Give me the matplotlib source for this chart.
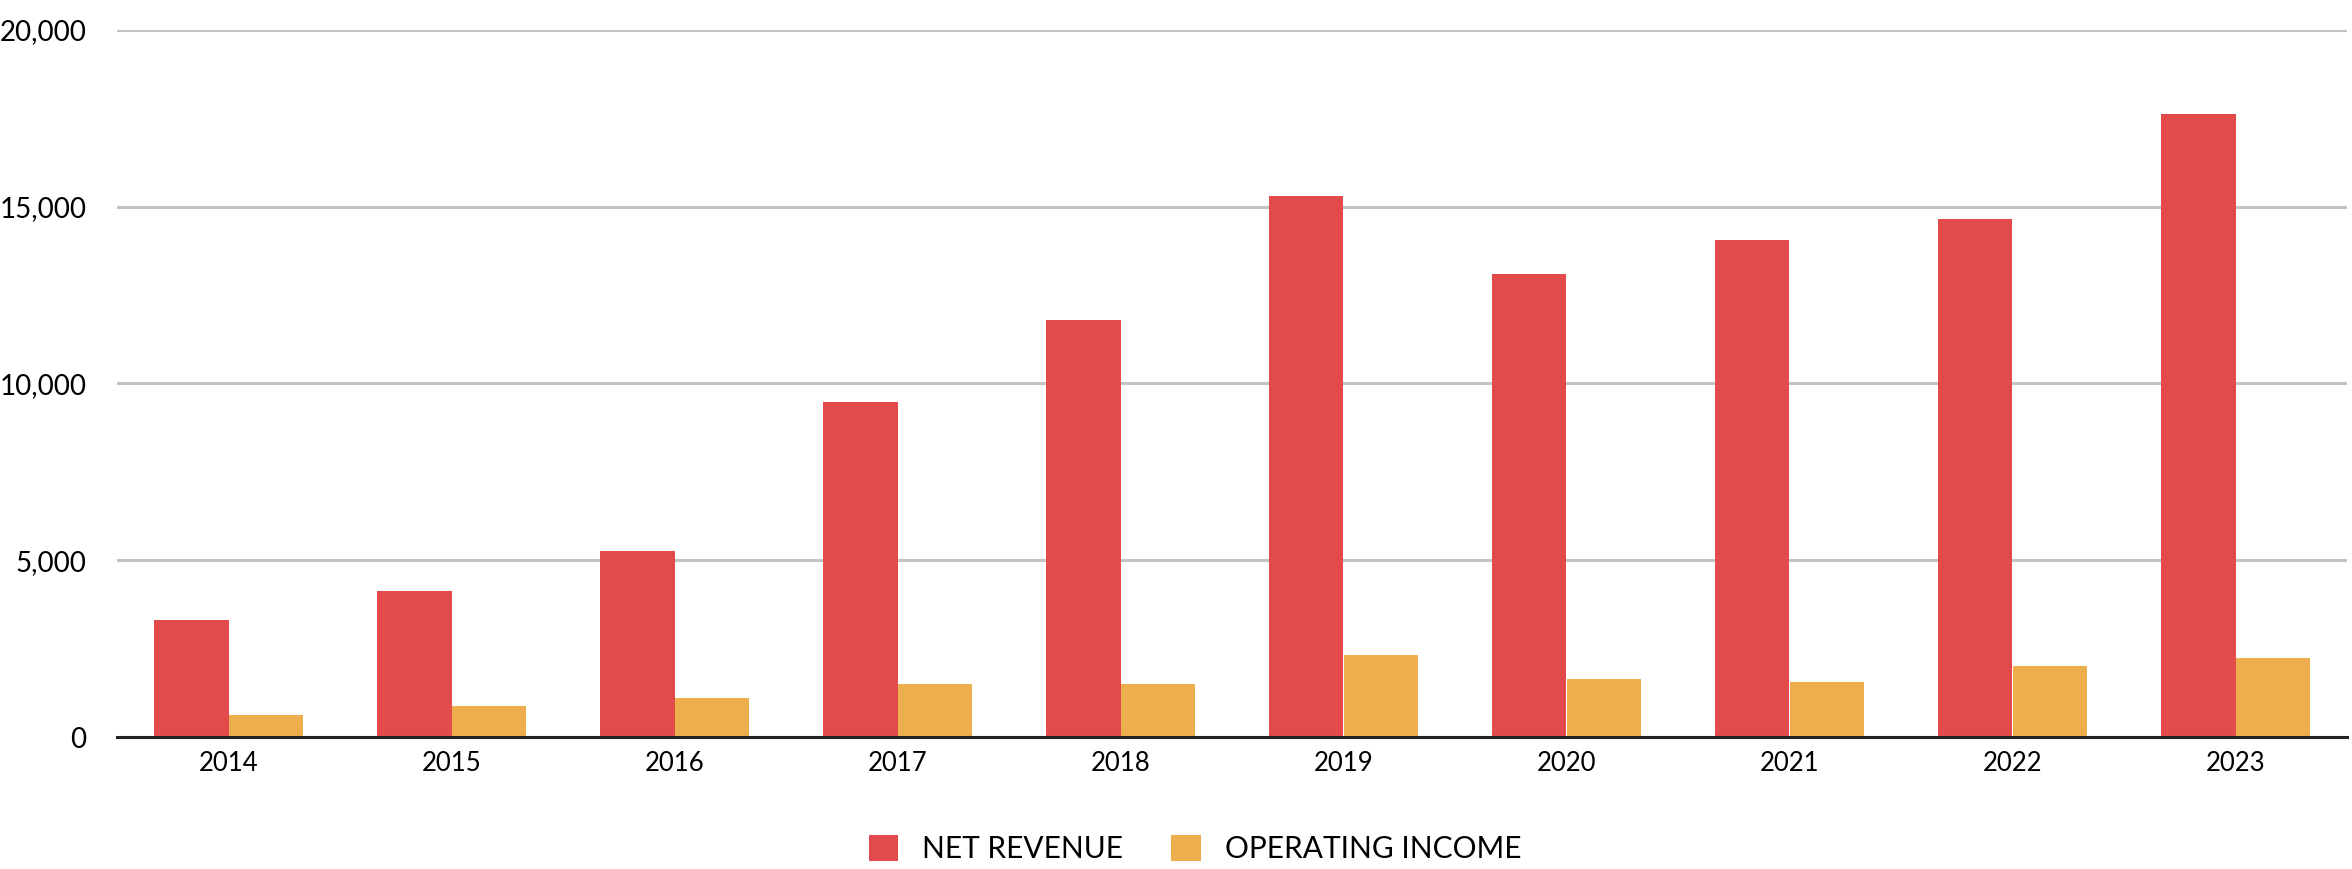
import matplotlib
matplotlib.use('Agg')
import matplotlib.pyplot as plt
import numpy as np
from matplotlib.ticker import FuncFormatter

plt.rcParams['font.family'] = ['Lato', 'DejaVu Sans']

years = ['2014', '2015', '2016', '2017', '2018', '2019', '2020', '2021', '2022', '2023']
net_revenue = [3300, 4130, 5260, 9470, 11800, 15300, 13090, 14070, 14660, 17620]
operating_income = [635, 870, 1090, 1490, 1490, 2310, 1630, 1550, 2000, 2230]

red = '#E34A4C'
orange = '#EDAF4E'

fig = plt.figure(figsize=(23.52, 8.69), dpi=100)
ax = fig.add_axes([117 / 2352, 1 - 737 / 869, 2230 / 2352, 707 / 869])

x = np.arange(len(years))
w = 0.335
ax.bar(x - w / 2, net_revenue, w, color=red, label='NET REVENUE', zorder=3)
ax.bar(x + w / 2, operating_income, w, color=orange, label='OPERATING INCOME', zorder=3)

ax.set_xlim(-0.5, len(years) - 0.5)
ax.set_ylim(0, 20000)
ax.set_yticks([0, 5000, 10000, 15000, 20000])
ax.yaxis.set_major_formatter(FuncFormatter(lambda v, p: f'{int(v):,}'))
ax.set_xticks(x)
ax.set_xticklabels(years)

ax.grid(axis='y', color='#C4C4C4', linewidth=2.2, zorder=0)
for s in ['top', 'right', 'left']:
    ax.spines[s].set_visible(False)
ax.spines['bottom'].set_color('#222222')
ax.spines['bottom'].set_linewidth(2.2)
ax.spines['bottom'].set_zorder(4)

ax.tick_params(axis='y', length=0, pad=22, labelsize=20)
ax.tick_params(axis='x', length=0, pad=10, labelsize=18.5)

fig.legend(loc='center', bbox_to_anchor=(1195 / 2352, 1 - 849 / 869), ncol=2,
           frameon=False, fontsize=21.5, handlelength=1.0, handleheight=1.0,
           columnspacing=1.6, handletextpad=0.8)

fig.savefig('out.png', dpi=100)
